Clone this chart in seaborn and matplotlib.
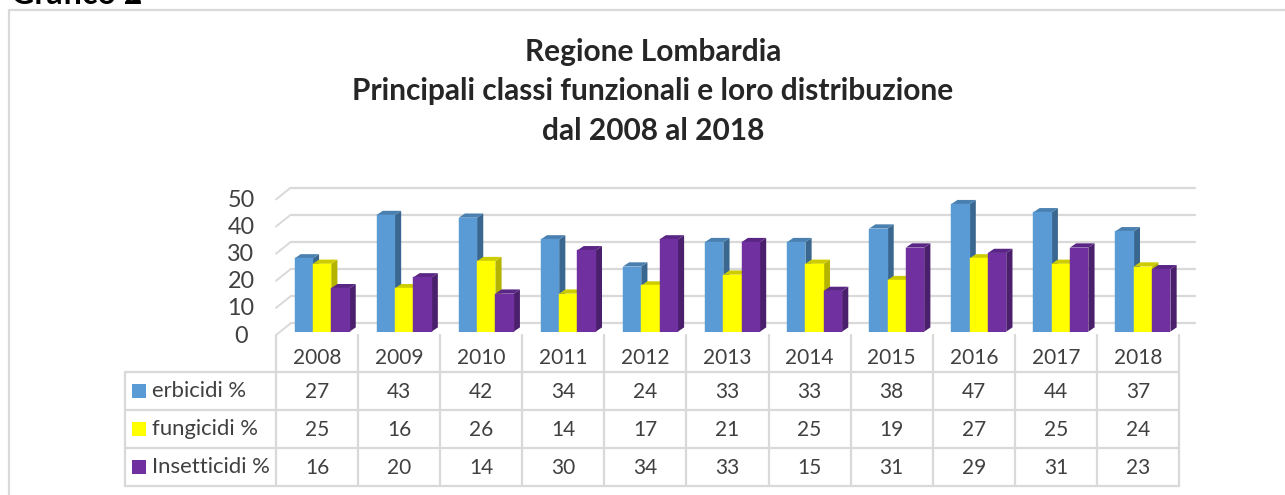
import matplotlib
matplotlib.use("Agg")
import matplotlib.pyplot as plt
from matplotlib.patches import Polygon, Rectangle
from matplotlib.lines import Line2D
from matplotlib.transforms import Affine2D
import pandas as pd
import seaborn as sns

years = ["2008", "2009", "2010", "2011", "2012", "2013", "2014", "2015", "2016", "2017", "2018"]
erbicidi = [27, 43, 42, 34, 24, 33, 33, 38, 47, 44, 37]
fungicidi = [25, 16, 26, 14, 17, 21, 25, 19, 27, 25, 24]
insetticidi = [16, 20, 14, 30, 34, 33, 15, 31, 29, 31, 23]
series_names = ["erbicidi %", "fungicidi %", "Insetticidi %"]
series_values = [erbicidi, fungicidi, insetticidi]
colors = ["#5B9BD5", "#FFFF00", "#7030A0"]
side_colors = ["#3A678F", "#B3B300", "#4A1F6C"]
top_colors = ["#4A80B0", "#CCCC00", "#5A2685"]
y_ticks = [0, 10, 20, 30, 40, 50]
title_lines = ["Regione Lombardia", "Principali classi funzionali e loro distribuzione", "dal 2008 al 2018"]

W, H = 1285, 495
sns.set_theme(style="white")
plt.rcParams["font.family"] = ["Lato", "DejaVu Sans"]
fig = plt.figure(figsize=(W / 100, H / 100), dpi=100, facecolor="white")

# overlay in pixel coordinates for chart frame and table rules
ov = fig.add_axes([0, 0, 1, 1], zorder=0)
ov.set_xlim(0, W); ov.set_ylim(H, 0); ov.axis("off")

x0, x1, y_zero, y_top = 276, 1179, 331.6, 196.0
bar_shift = 5
ax = fig.add_axes([(x0 + bar_shift) / W, 1 - y_zero / H, (x1 - x0) / W, (y_zero - y_top) / H], zorder=1)
ax.patch.set_alpha(0)

df = pd.DataFrame({
    "year": years * 3,
    "serie": [n for n in series_names for _ in years],
    "value": erbicidi + fungicidi + insetticidi,
})
sns.barplot(data=df, x="year", y="value", hue="serie", hue_order=series_names, order=years,
            palette=colors, width=0.67, gap=0, dodge=True, legend=False, ax=ax, saturation=1, zorder=5)
ax.set_xlim(-0.5, len(years) - 0.5)
ax.set_ylim(0, 50)
ax.set_xlabel(""); ax.set_ylabel("")
ax.set_xticks([]); ax.set_yticks([])
for s in ax.spines.values():
    s.set_visible(False)

grid_col = "#D9D9D9"
back = ax.transData + Affine2D().translate(9.7, 8.3)
front_dx, front_dy = -5, -3.4
for v in y_ticks:
    ax.plot([-0.5, len(years) - 0.5 + 0.02], [v, v], color=grid_col, lw=1.6, transform=back, zorder=1, clip_on=False)
    xa, ya = ax.transData.transform((-0.5, v))
    ax.add_line(Line2D([xa + front_dx, xa + 9.7], [ya + front_dy, ya + 8.3], color=grid_col, lw=1.4,
                       transform=None, zorder=1, clip_on=False))
    ax.text(-0.5, v, str(v), transform=ax.transData + Affine2D().translate(-40, -4.5), ha="center", va="center",
            fontsize=16.8, color="#404040")

# 3D sides of bars derived from the drawn bars
bdx, bdy = 6.2, 4.2
for k, cont in enumerate(ax.containers):
    for bar in cont:
        bar.set_edgecolor(colors[k]); bar.set_linewidth(0.3)
        bar.set_zorder(5 + 2 * k + 1)
        x, w, h = bar.get_x(), bar.get_width(), bar.get_height()
        (xl, yb), (xr, yt) = ax.transData.transform([(x, 0), (x + w, h)])
        side = Polygon([(xr, yb), (xr + bdx, yb + bdy), (xr + bdx, yt + bdy), (xr, yt)], closed=True,
                       facecolor=side_colors[k], edgecolor="none", transform=None, zorder=5 + 2 * k, clip_on=False)
        top = Polygon([(xl, yt), (xr, yt), (xr + bdx, yt + bdy), (xl + bdx, yt + bdy)], closed=True,
                      facecolor=top_colors[k], edgecolor="none", transform=None, zorder=5 + 2 * k, clip_on=False)
        ax.add_patch(side); ax.add_patch(top)

# titles
for txt, yy in zip(title_lines, [51.5, 91, 131]):
    ov.text(653, yy, txt, ha="center", va="center", fontsize=21.5, fontweight="bold", color="#262626")
ov.text(11, 4, "Grafico 2", ha="left", va="baseline", fontsize=23, fontweight="bold", color="black", clip_on=True)

# outer frame (left and top only; the right edge is outside the picture)
ov.plot([8.5, 8.5, W], [H, 10, 10], color=grid_col, lw=1.6)

# data table
rows_y = [372, 410, 448, 486]
label_x0 = 124.5
cell = (x1 - x0) / len(years)
for i in range(len(years) + 1):
    xx = x0 + i * cell
    ov.plot([xx, xx], [335, rows_y[-1]], color=grid_col, lw=1.6)
for yy in rows_y:
    ov.plot([label_x0, x1], [yy, yy], color=grid_col, lw=1.6)
ov.plot([label_x0, label_x0], [rows_y[0], rows_y[-1]], color=grid_col, lw=1.6)

for i, y in enumerate(years):
    ov.text(x0 + (i + .5) * cell, 358, y, ha="center", va="center", fontsize=15, color="#404040")
for r, (name, vals) in enumerate(zip(series_names, series_values)):
    yc = (rows_y[r] + rows_y[r + 1]) / 2 - 0.5
    ov.add_patch(Rectangle((132, yc - 7), 14, 14, facecolor=colors[r], edgecolor="none"))
    ov.text(152, yc + 0.8, name, ha="left", va="center", fontsize=15.9, color="#404040")
    for i, v in enumerate(vals):
        ov.text(x0 + (i + .5) * cell, yc + 1.2, str(v), ha="center", va="center", fontsize=15, color="#404040")

fig.savefig("out.png", dpi=100)
